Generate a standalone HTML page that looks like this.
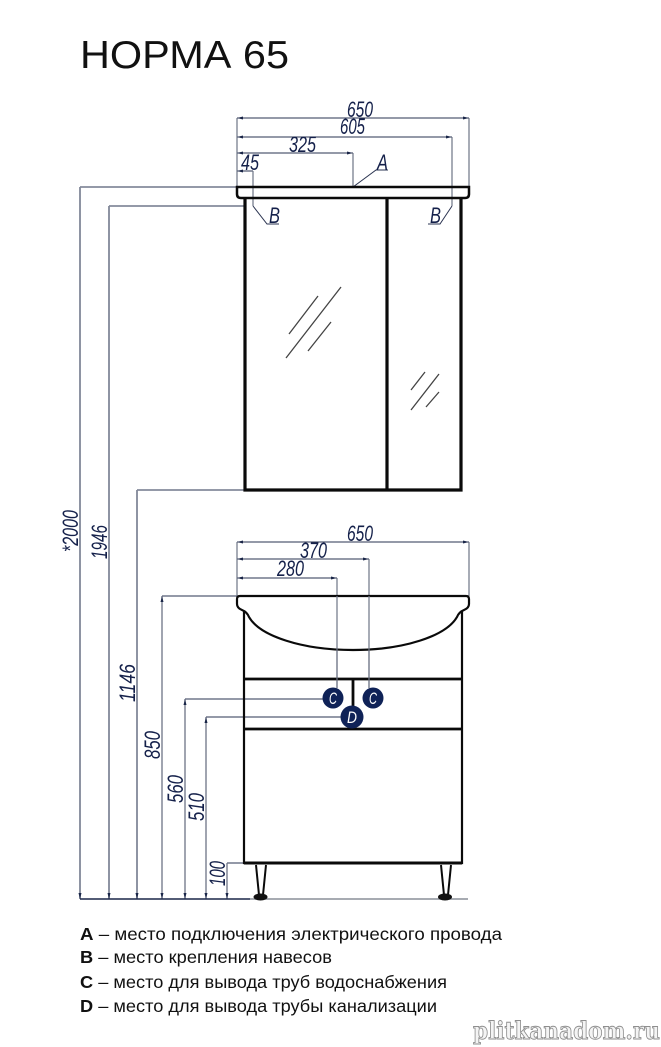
<!DOCTYPE html>
<html><head><meta charset="utf-8"><style>
html,body{margin:0;padding:0;background:#fff}
svg{display:block}
.d{font-family:"Liberation Sans",sans-serif;font-style:italic;font-size:22px;fill:#14204a}
.l{font-family:"Liberation Sans",sans-serif;font-size:17.5px;fill:#111}
.l tspan{font-weight:bold}
.c{font-family:"Liberation Sans",sans-serif;font-style:italic;font-size:17px;fill:#fff}
</style></head><body>
<svg width="661" height="1047" viewBox="0 0 661 1047" xmlns="http://www.w3.org/2000/svg">
<rect width="661" height="1047" fill="#fff"/>
<text x="80" y="68" font-family="'Liberation Sans',sans-serif" font-size="39" fill="#111" textLength="209" lengthAdjust="spacingAndGlyphs">НОРМА 65</text>

<!-- upper dimension lines -->
<g fill="none" stroke="#2a3350" stroke-width="1">
<path d="M237 118H469M237 137H452M237 153H353M237 171H253"/>
<path d="M237 118V187M469 118V187M353 153V187M253 171V206M452 137V206" stroke="#6d7486" stroke-width="1.2"/>
<path d="M353 187L376 170H388M253 206L267 224H279M452 206L440 224H428"/>
<path d="M80 187H237M109 206H245M137 490H245M162 596H237M185 699H323M206 717H341"/>
<path d="M237 542H469M237 559H369M237 578H337"/>
<path d="M237 542V596M469 542V596M337 578V688M369 559V688" stroke="#6d7486" stroke-width="1.2"/>
<path d="M227 863H244"/>
</g>
<g fill="none" stroke="#828999" stroke-width="1.8">
<path d="M80 187V899M109 206V899M137 490V899"/>
</g>
<g fill="none" stroke="#6d7486" stroke-width="1.3">
<path d="M162 596V899M185 699V899M206 717V899M227 863V899"/>
</g>
<path d="M80 899H250" stroke="#1a2648" stroke-width="1.5"/>
<path d="M250 899H468" stroke="#8a8f99" stroke-width="1.5"/>
<!-- arrowheads -->
<g fill="#1a2648">
<path d="M237 118l6-1.500v3zM469 118l-6-1.500v3zM237 137l6-1.500v3zM452 137l-6-1.500v3zM237 153l6-1.500v3zM353 153l-6-1.500v3zM237 171l6-1.500v3z"/>
<path d="M237 542l6-1.500v3zM469 542l-6-1.500v3zM237 559l6-1.500v3zM369 559l-6-1.500v3zM237 578l6-1.500v3zM337 578l-6-1.500v3z"/>
<path d="M80 899l-1.500-6h3zM109 899l-1.500-6h3zM137 899l-1.500-6h3zM162 899l-1.500-6h3zM185 899l-1.500-6h3zM206 899l-1.500-6h3zM227 899l-1.500-6h3z"/>
<path d="M162 596l-1.500 6h3zM185 699l-1.500 6h3zM206 717l-1.500 6h3z"/>
</g>

<!-- mirror cabinet -->
<g fill="none" stroke="#0a0a0a">
<path d="M237 187H469V194Q469 198 465 198H241Q237 198 237 194Z" stroke-width="2.500"/>
<path d="M245 198V490H461V198M387 198V490" stroke-width="3.200"/>
</g>
<g stroke="#444" stroke-width="1.300" fill="none">
<path d="M289 334L318 296M286 358L341 287M308 351L331 322"/>
<path d="M411 390L425 372M411 410L439 374M426 407L439 392"/>
</g>

<!-- vanity -->
<g fill="none" stroke="#0a0a0a">
<path d="M244 610V863H462V610" stroke-width="2.200"/>
<path d="M244 863H462" stroke-width="3"/>
<path d="M244 679H462M244 729H462" stroke-width="2.800"/>
<path d="M353 679V707" stroke-width="2.800"/>
</g>
<path d="M240 596H466Q469 596 469 599V604Q469 608 464 610Q459 612 457 617C446 636 404 650 353 650C302 650 260 636 249 617Q247 612 242 610Q237 608 237 604V599Q237 596 240 596Z" fill="#fff" stroke="#0a0a0a" stroke-width="2.200"/>
<path d="M337 596V688M369 596V688" stroke="#6d7486" stroke-width="1.200" fill="none"/>
<g fill="#0f2257">
<circle cx="333" cy="698" r="10.500"/>
<circle cx="373" cy="698" r="10.500"/>
<circle cx="352" cy="717" r="11.500"/>
</g>
<text class="c" x="329" y="704" textLength="8" lengthAdjust="spacingAndGlyphs">C</text>
<text class="c" x="369" y="704" textLength="8" lengthAdjust="spacingAndGlyphs">C</text>
<text class="c" x="347" y="723" textLength="10" lengthAdjust="spacingAndGlyphs">D</text>

<!-- legs -->
<g fill="#fff" stroke="#0a0a0a" stroke-width="2">
<path d="M256 865L259 895H263L266 865"/>
<path d="M441 865L444 895H448L451 865"/>
</g>
<g fill="#111">
<ellipse cx="260.500" cy="897" rx="7" ry="3.500"/>
<ellipse cx="445" cy="897" rx="7" ry="3.500"/>
</g>

<!-- dimension labels -->
<text class="d" x="347" y="117" textLength="26" lengthAdjust="spacingAndGlyphs">650</text>
<text class="d" x="340" y="134" textLength="25" lengthAdjust="spacingAndGlyphs">605</text>
<text class="d" x="289" y="152" textLength="27" lengthAdjust="spacingAndGlyphs">325</text>
<text class="d" x="241" y="170" textLength="18" lengthAdjust="spacingAndGlyphs">45</text>
<text class="d" x="377" y="170" textLength="11" lengthAdjust="spacingAndGlyphs">A</text>
<text class="d" x="269" y="223" textLength="11" lengthAdjust="spacingAndGlyphs">B</text>
<text class="d" x="430" y="223" textLength="11" lengthAdjust="spacingAndGlyphs">B</text>
<text class="d" x="347" y="541" textLength="26" lengthAdjust="spacingAndGlyphs">650</text>
<text class="d" x="300" y="558" textLength="27" lengthAdjust="spacingAndGlyphs">370</text>
<text class="d" x="277" y="576" textLength="27" lengthAdjust="spacingAndGlyphs">280</text>
<text class="d" transform="translate(78 552) rotate(-90)" textLength="42" lengthAdjust="spacingAndGlyphs">*2000</text>
<text class="d" transform="translate(107 559) rotate(-90)" textLength="34" lengthAdjust="spacingAndGlyphs">1946</text>
<text class="d" transform="translate(135 702) rotate(-90)" textLength="38" lengthAdjust="spacingAndGlyphs">1146</text>
<text class="d" transform="translate(160 759) rotate(-90)" textLength="28" lengthAdjust="spacingAndGlyphs">850</text>
<text class="d" transform="translate(183 803) rotate(-90)" textLength="28" lengthAdjust="spacingAndGlyphs">560</text>
<text class="d" transform="translate(204 821) rotate(-90)" textLength="28" lengthAdjust="spacingAndGlyphs">510</text>
<text class="d" transform="translate(225 886) rotate(-90)" textLength="25" lengthAdjust="spacingAndGlyphs">100</text>

<!-- legend -->
<text class="l" x="80" y="940" textLength="422" lengthAdjust="spacingAndGlyphs"><tspan>A</tspan> – место подключения электрического провода</text>
<text class="l" x="80" y="963" textLength="252" lengthAdjust="spacingAndGlyphs"><tspan>B</tspan> – место крепления навесов</text>
<text class="l" x="80" y="988" textLength="367" lengthAdjust="spacingAndGlyphs"><tspan>C</tspan> – место для вывода труб водоснабжения</text>
<text class="l" x="80" y="1012" textLength="357" lengthAdjust="spacingAndGlyphs"><tspan>D</tspan> – место для вывода трубы канализации</text>

<!-- watermark -->
<text x="473" y="1039" font-family="'DejaVu Serif',serif" font-size="24" font-weight="bold" fill="#f4f4f4" stroke="#8e8e8e" stroke-width="0.900" textLength="187" lengthAdjust="spacingAndGlyphs">plitkanadom.ru</text>
</svg>
</body></html>
